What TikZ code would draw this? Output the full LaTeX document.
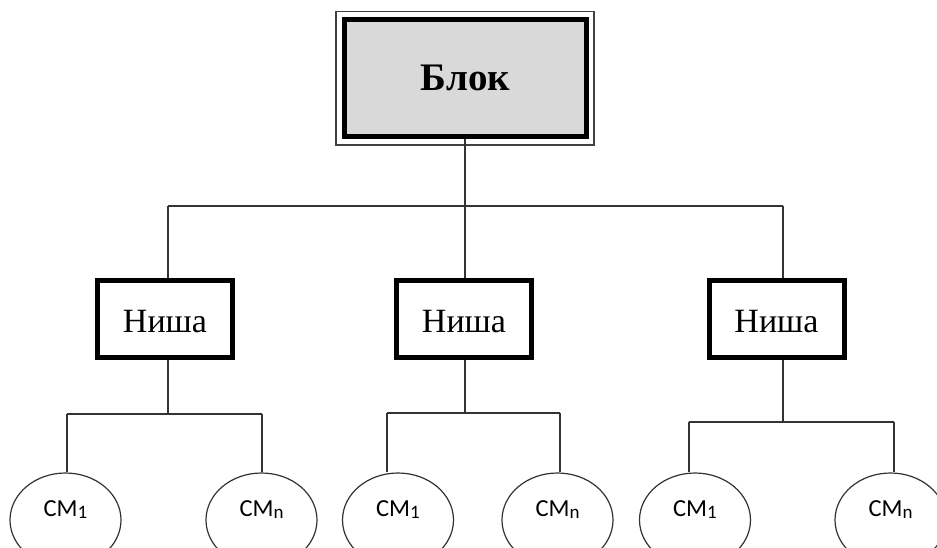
\documentclass[tikz,border=0pt]{standalone}
\usepackage{fontspec}
\setmainfont{Liberation Serif}
\newfontfamily\cmfont{Carlito}
\usetikzlibrary{shapes.geometric}
\newcommand\smsub[1]{\raisebox{-2pt}{\fontsize{19}{19}\selectfont #1}}
\tikzset{
  blockbox/.style={rectangle, draw=black, line width=5pt, fill=black!15,
    minimum width=242pt, minimum height=116.5pt, inner sep=0pt,
    font=\fontsize{39}{39}\selectfont\bfseries},
  frame/.style={draw=black!75, line width=1.5pt},
  nichebox/.style={rectangle, draw=black, line width=5pt, fill=white,
    minimum width=135pt, minimum height=77pt, inner sep=0pt,
    text height=27pt, text depth=0pt,
    font=\fontsize{34}{34}\selectfont},
  cmnode/.style={ellipse, draw=black!80, line width=1.2pt, fill=white,
    minimum width=111pt, minimum height=94pt, inner sep=0pt},
  cmlab/.style={yshift=10pt, inner sep=0pt, font=\cmfont\fontsize{24.5}{24.5}\selectfont},
  conn/.style={draw=black!80, line width=1.1pt}
}
\begin{document}
\begin{tikzpicture}[x=1pt,y=-1pt]
\clip (0,0) rectangle (937,547);
\fill[white] (0,0) rectangle (937,547);

% top block
\node[blockbox] (blk) at (465.5,78) {Блок};
\draw[frame] ([shift={(-6,-6)}]blk.north west) rectangle ([shift={(5,6)}]blk.south east);

% niches
\node[nichebox] (n1) at (165,319) {Ниша};
\node[nichebox] (n2) at (464,319) {Ниша};
\node[nichebox] (n3) at (776.5,319) {Ниша};

% ellipses
\node[cmnode, label={[cmlab]center:СМ\smsub{1}}] (c1) at (65.5,520) {};
\node[cmnode, label={[cmlab]center:СМ\smsub{n}}] (c2) at (261.5,520) {};
\node[cmnode, label={[cmlab]center:СМ\smsub{1}}] (c3) at (398,520) {};
\node[cmnode, label={[cmlab]center:СМ\smsub{n}}] (c4) at (557.5,520) {};
\node[cmnode, label={[cmlab]center:СМ\smsub{1}}] (c5) at (695,520) {};
\node[cmnode, label={[cmlab]center:СМ\smsub{n}}] (c6) at (890.5,520) {};

% top level connectors
\coordinate (j0) at (465,206);
\coordinate (jl) at (168,206);
\coordinate (jr) at (783,206);
\draw[conn] (blk.south -| j0) -- (j0);
\draw[conn] (jl) -- (jr);
\draw[conn] (jl) -- (jl |- n1.north);
\draw[conn] (j0) -- (j0 |- n2.north);
\draw[conn] (jr) -- (jr |- n3.north);

% group 1
\coordinate (g1) at (168,414);
\coordinate (g1l) at (67,414);
\coordinate (g1r) at (262,414);
\draw[conn] (g1 |- n1.south) -- (g1);
\draw[conn] (g1l) -- (g1r);
\draw[conn] (g1l) -- (g1l |- c1.north);
\draw[conn] (g1r) -- (g1r |- c2.north);

% group 2
\coordinate (g2) at (465,413);
\coordinate (g2l) at (387,413);
\coordinate (g2r) at (560,413);
\draw[conn] (g2 |- n2.south) -- (g2);
\draw[conn] (g2l) -- (g2r);
\draw[conn] (g2l) -- (g2l |- c3.north);
\draw[conn] (g2r) -- (g2r |- c4.north);

% group 3
\coordinate (g3) at (783,422);
\coordinate (g3l) at (689,422);
\coordinate (g3r) at (894,422);
\draw[conn] (g3 |- n3.south) -- (g3);
\draw[conn] (g3l) -- (g3r);
\draw[conn] (g3l) -- (g3l |- c5.north);
\draw[conn] (g3r) -- (g3r |- c6.north);
\end{tikzpicture}
\end{document}
